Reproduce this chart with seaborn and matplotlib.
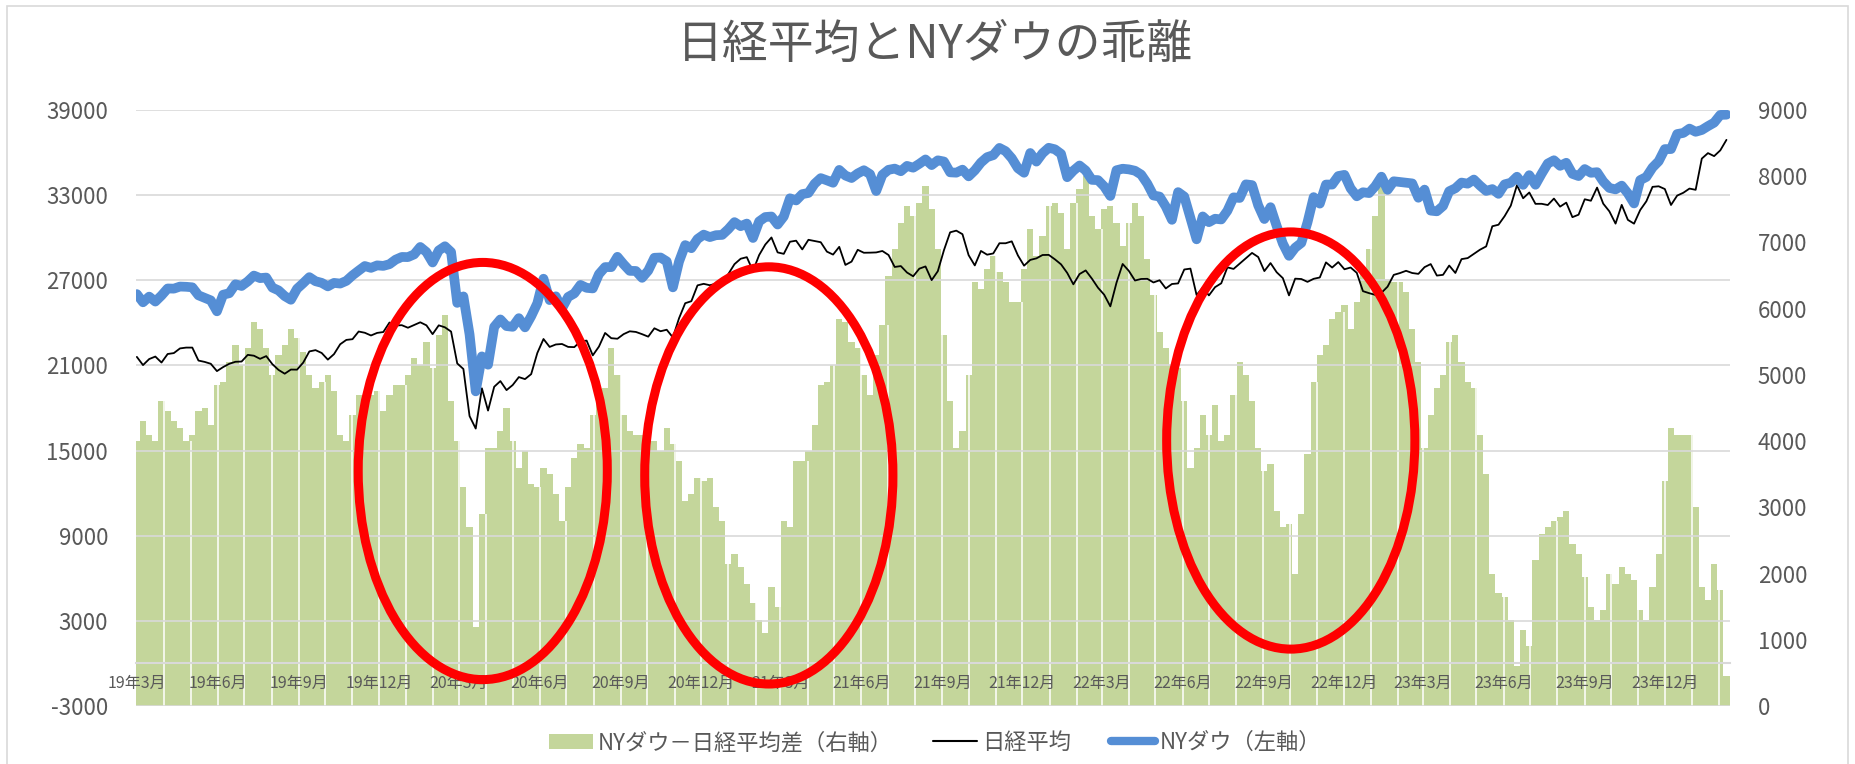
import numpy as np
import pandas as pd
import matplotlib
matplotlib.use("Agg")
import matplotlib.pyplot as plt
import matplotlib.dates as mdates
from matplotlib.patches import Ellipse, Patch, Rectangle
from matplotlib.lines import Line2D
import seaborn as sns

# weekly closes (Fridays), starting 2019-03-01
START = "2019-03-01"

nydow = [
    # 2019
    26026, 25450, 25849, 25502, 25929, 26425, 26412, 26559, 26543, 26505,
    25942, 25764, 25586, 24815, 25984, 26090, 26719, 26600, 26922, 27332,
    27154, 27192, 26485, 26287, 25886, 25629, 26403, 26797, 27220, 26935,
    26820, 26573, 26817, 26770, 26958, 27347, 27681, 28005, 27876, 28051,
    28015, 28135, 28455, 28645,
    # 2020
    28635, 28824, 29348, 28990, 28256, 29103, 29398, 28992, 25409, 25865,
    23186, 19174, 21637, 21053, 23719, 24242, 23775, 23724, 24331, 23685,
    24465, 25383, 27111, 25606, 25871, 25016, 25827, 26075, 26672, 26470,
    26428, 27433, 27931, 27930, 28654, 28133, 27666, 27657, 27174, 27683,
    28587, 28606, 28335, 26502, 28323, 29480, 29263, 29910, 30218, 30046,
    30179, 30200,
    # 2021
    30606, 31098, 30814, 30997, 29983, 31148, 31458, 31494, 30932, 31496,
    32779, 32628, 33072, 33153, 33801, 34200, 34043, 33875, 34778, 34382,
    34208, 34529, 34756, 34480, 33290, 34434, 34786, 34870, 34687, 35062,
    34935, 35209, 35515, 35120, 35455, 35369, 34608, 34585, 34798, 34326,
    34746, 35295, 35677, 35820, 36328, 36100, 35602, 34899, 34580, 35971,
    35365, 35951, 36338,
    # 2022
    36232, 35912, 34265, 34725, 35090, 34738, 34079, 34059, 33615, 32944,
    34755, 34862, 34818, 34721, 34451, 33811, 32977, 32899, 32197, 31262,
    33213, 32900, 31393, 29888, 31501, 31097, 31338, 31289, 31899, 32845,
    32803, 33761, 33707, 32283, 31318, 32152, 30822, 29590, 28726, 29297,
    29635, 31083, 32862, 32403, 33748, 33746, 34347, 34430, 33477, 32920,
    33204, 33147,
    # 2023
    33631, 34303, 33375, 33978, 33926, 33870, 33827, 32817, 33391, 31910,
    31862, 32238, 33274, 33485, 33886, 33809, 34098, 33674, 33300, 33427,
    33093, 33762, 33877, 34299, 33727, 34408, 33734, 34509, 35228, 35459,
    35066, 35281, 34500, 34346, 34838, 34576, 34618, 33964, 33508, 33407,
    33670, 33127, 32418, 34061, 34283, 34947, 35390, 36246, 36248, 37306,
    37385, 37690,
    # 2024
    37466, 37593, 37863, 38109, 38654, 38672,
]

nikkei = [
    # 2019
    21602, 21025, 21450, 21627, 21205, 21807, 21870, 22200, 22258, 22258,
    21344, 21250, 21117, 20601, 20884, 21116, 21258, 21275, 21746, 21686,
    21466, 21658, 21087, 20684, 20418, 20710, 20704, 21199, 21988, 22079,
    21878, 21410, 21798, 22492, 22800, 22850, 23391, 23303, 23112, 23293,
    23354, 24023, 23816, 23837,
    # 2020
    23657, 23850, 24041, 23827, 23205, 23827, 23687, 23386, 21142, 20749,
    17431, 16552, 19389, 17820, 19498, 19897, 19262, 19619, 20179, 20037,
    20388, 21877, 22863, 22305, 22478, 22512, 22306, 22290, 22696, 22751,
    21710, 22329, 23289, 22920, 22882, 23205, 23406, 23360, 23204, 23029,
    23619, 23410, 23516, 22977, 24325, 25385, 25527, 26644, 26751, 26652,
    26763, 26656,
    # 2021
    27444, 28139, 28519, 28631, 27663, 28779, 29520, 30018, 28966, 28864,
    29717, 29792, 29176, 29854, 29768, 29683, 29020, 28812, 29357, 28084,
    28317, 29149, 28941, 28948, 28964, 29066, 28783, 27940, 28003, 27548,
    27283, 27820, 27977, 27013, 27641, 29128, 30381, 30500, 30249, 28771,
    28049, 29069, 28805, 28893, 29612, 29610, 29745, 28752, 28030, 28437,
    28546, 28782, 28792,
    # 2022
    28479, 28124, 27522, 26717, 27440, 27696, 27122, 26476, 25985, 25163,
    26827, 28150, 27666, 26985, 27093, 27105, 26848, 27003, 26427, 26739,
    26781, 27761, 27824, 25963, 26491, 25935, 26517, 26788, 27914, 27801,
    28175, 28547, 28930, 28641, 27650, 28214, 27567, 27153, 25937, 27116,
    27090, 26890, 27105, 27199, 28263, 27899, 28283, 27777, 27901, 27527,
    26235, 26094,
    # 2023
    25973, 26119, 26553, 27382, 27509, 27670, 27513, 27453, 27927, 28143,
    27333, 27385, 28041, 27518, 28493, 28564, 28856, 29157, 29388, 30808,
    30916, 31524, 32265, 33706, 32781, 33189, 32388, 32391, 32304, 32759,
    32192, 32473, 31450, 31624, 32710, 32606, 33533, 32402, 31857, 30994,
    32315, 31259, 30991, 31950, 32568, 33585, 33625, 33431, 32307, 32970,
    33169, 33464,
    # 2024
    33377, 35577, 35963, 35751, 36158, 36897,
]

# NY Dow minus Nikkei (right axis)
spread = [
    4000, 4300, 4100, 4000, 4600, 4450, 4300, 4200, 4000, 4100,
    4450, 4500, 4250, 4850, 4900, 5200, 5450, 5150, 5400, 5800,
    5700, 5400, 5000, 5300, 5450, 5700, 5550, 5350, 5000, 4800,
    4900, 5000, 4750, 4100, 4000, 4400, 4700, 4600, 4700, 4750,
    4450, 4700, 4850, 4850, 5000, 5250, 5150, 5500, 5100, 5600,
    5900, 4600, 4000, 3300, 2700, 1200, 2900, 3900, 3900, 4150,
    4500, 4000, 3600, 3850, 3350, 3300, 3600, 3500, 3200, 2800,
    3300, 3750, 3950, 3900, 4400, 4600, 4800, 5400, 5000, 4400,
    4150, 4100, 4100, 4200, 4000, 3850, 4200, 3950, 3700, 3100,
    3200, 3450, 3400, 3450, 3000, 2800, 2150, 2300, 2100, 1850,
    1550, 1300, 1100, 1800, 1500, 2800, 2700, 3700, 3700, 3850, 4250,
    4850, 4900, 5150, 5850, 5800, 5500, 5400, 5000, 4700, 5300,
    5750, 6500, 6900, 7300, 7550, 7400, 7600, 7850, 7500, 6900,
    5600, 4600, 3900, 4150, 5000, 6400, 6300, 6600, 6800, 6550,
    6400, 6100, 6100, 6600, 7200, 6800, 7100, 7550, 7600, 7450,
    6900, 7600, 7800, 8000, 7400, 7200, 7500, 7550, 7300, 6950,
    7300, 7600, 7400, 6750, 6200, 5650, 5400, 5150, 5100, 4600,
    3600, 3900, 4400, 4100, 4550, 4000, 4100, 4700, 5200, 5000,
    4600, 3900, 3550, 3650, 2950, 2700, 2750, 2000, 2900, 3800,
    4900, 5300, 5450, 5850, 5950, 6050, 5700, 6100, 6600, 6900,
    7400, 8000, 6450, 6400, 6400, 6250, 5700, 5200, 3900, 4400,
    4800, 5000, 5500, 5600, 5200, 4900, 4800, 4100, 3500, 2000,
    1700, 1650, 1300, 600, 1150, 900, 2200, 2600, 2700, 2800,
    2850, 2950, 2450, 2300, 1950, 1500, 1300, 1450, 2000, 1850,
    2100, 2000, 1900, 1450, 1300, 1800, 2300, 3400, 4200, 4100,
    4100, 4100, 3000, 1800, 1600, 2150, 1750, 450,
]

tick_dates = [
    "2019-03-01", "2019-06-01", "2019-09-01", "2019-12-01",
    "2020-03-01", "2020-06-01", "2020-09-01", "2020-12-01",
    "2021-03-01", "2021-06-01", "2021-09-01", "2021-12-01",
    "2022-03-01", "2022-06-01", "2022-09-01", "2022-12-01",
    "2023-03-01", "2023-06-01", "2023-09-01", "2023-12-01",
]
tick_labels = [
    "19年3月", "19年6月", "19年9月", "19年12月",
    "20年3月", "20年6月", "20年9月", "20年12月",
    "21年3月", "21年6月", "21年9月", "21年12月",
    "22年3月", "22年6月", "22年9月", "22年12月",
    "23年3月", "23年6月", "23年9月", "23年12月",
]
left_ticks = [-3000, 3000, 9000, 15000, 21000, 27000, 33000, 39000]
right_ticks = [0, 1000, 2000, 3000, 4000, 5000, 6000, 7000, 8000, 9000]

# the three red circles (centre date, centre value on left axis, width in days, height)
circles = [
    ("2020-03-28", 13560, 283, 29400),
    ("2021-02-16", 13250, 282, 29400),
    ("2022-10-02", 15710, 282, 29400),
]

GREEN = "#c4d69b"
BLUE = "#558ed5"
GREY_TXT = "#595959"
GRID = "#d9d9d9"

df = pd.DataFrame({
    "date": pd.date_range(START, periods=len(nydow), freq="7D"),
    "NYダウ": nydow,
    "日経平均": nikkei,
    "差": spread,
})

sns.set_theme(style="white")
plt.rcParams["font.family"] = ["Noto Sans CJK JP", "DejaVu Sans"]
plt.rcParams["axes.unicode_minus"] = False

fig = plt.figure(figsize=(18.55, 7.64), dpi=100)
ax = fig.add_axes([0.0733, 0.0759, 0.8593, 0.7801])
ax2 = ax.twinx()
ax.set_zorder(ax2.get_zorder() + 1)
ax.patch.set_visible(False)

# bars on the right axis
ax2.bar(df["date"], df["差"], width=7, color=GREEN, linewidth=0, align="center")
# thin white month stripes like the Excel rendering
months = pd.date_range("2019-04-01", "2024-02-01", freq="MS")
idx = np.searchsorted(df["date"].values, months.values, side="right") - 1
ax2.vlines(months, 0, df["差"].values[idx], color="white", lw=1.1)

sns.lineplot(data=df, x="date", y="日経平均", ax=ax, color="black", lw=1.3)
sns.lineplot(data=df, x="date", y="NYダウ", ax=ax, color=BLUE, lw=7,
             solid_capstyle="round", solid_joinstyle="round")

for d, yc, w, h in circles:
    ax.add_patch(Ellipse((mdates.date2num(pd.Timestamp(d)), yc), w, h,
                         fill=False, ec="#ff0000", lw=6.5, zorder=6))

ax.set_xlim(pd.Timestamp("2019-02-28"), pd.Timestamp("2024-02-13"))
ax.set_ylim(-3000, 39000)
ax2.set_ylim(0, 9000)

ax.set_yticks(left_ticks)
ax2.set_yticks(right_ticks)
ax.set_xticks([pd.Timestamp(t) for t in tick_dates])
ax.set_xticklabels(tick_labels)
ax.set_xlabel("")
ax.set_ylabel("")
ax2.set_ylabel("")

ax.grid(axis="y", color=GRID, lw=1.2)
ax.grid(axis="x", visible=False)
ax2.grid(False)

for s in ["left", "right", "top"]:
    ax.spines[s].set_visible(False)
for s in ax2.spines.values():
    s.set_visible(False)
ax.spines["bottom"].set_position(("data", 0))
ax.spines["bottom"].set_color(GRID)
ax.spines["bottom"].set_linewidth(1.5)

ax.tick_params(axis="x", direction="out", length=5, width=1.2, color=GRID,
               labelsize=11.5, labelcolor=GREY_TXT, pad=3)
ax.tick_params(axis="y", length=0, labelsize=16, labelcolor=GREY_TXT, pad=20)
ax2.tick_params(axis="y", length=0, labelsize=16, labelcolor=GREY_TXT, pad=20)

fig.text(0.504, 0.941, "日経平均とNYダウの乖離", ha="center", va="center",
         fontsize=33, color=GREY_TXT)

handles = [
    Patch(facecolor=GREEN, edgecolor="none"),
    Line2D([], [], color="black", lw=1.5),
    Line2D([], [], color=BLUE, lw=6),
]
labels = ["NYダウ－日経平均差（右軸）", "日経平均", "NYダウ（左軸）"]
fig.legend(handles, labels, loc="center", bbox_to_anchor=(0.504, 0.028), ncol=3,
           frameon=False, fontsize=16, handlelength=2.0, handletextpad=0.2,
           columnspacing=1.8, labelcolor=GREY_TXT)

fig.add_artist(Rectangle((0.004, -0.01), 0.992, 1.002, transform=fig.transFigure,
                         fill=False, ec=GRID, lw=1.2))

fig.savefig("out.png", dpi=100)
